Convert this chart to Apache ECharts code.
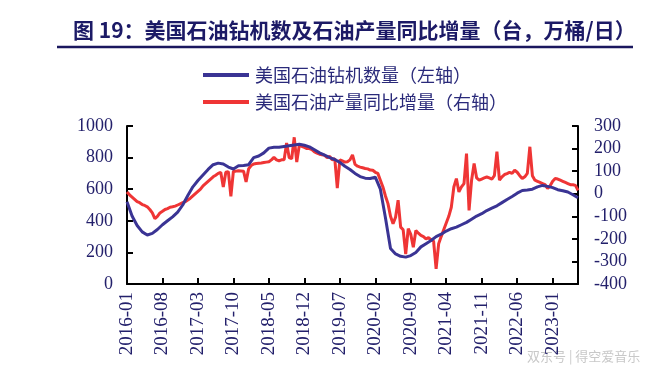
<!DOCTYPE html>
<html><head><meta charset="utf-8">
<script src="https://cdn.jsdelivr.net/npm/echarts@6/dist/echarts.min.js"></script>
<style>html,body{margin:0;padding:0;background:#fff}#c{width:653px;height:378px}</style>
</head><body><div id="c"></div>
<script>
// Months 2016-01 .. 2023-06 ; each month split into two half-month slots
const startYear = 2016, monthCount = 90;
const tickLabels = ['2016-01','2016-08','2017-03','2017-10','2018-05','2018-12','2019-07','2020-02','2020-09','2021-04','2021-11','2022-06','2023-01'];
// US oil rig count (left axis), one value per month
const rigCount = [520,430,370,330,310,320,345,375,400,425,455,500,560,615,655,690,725,755,765,760,
  740,728,748,750,755,800,810,830,860,865,865,870,875,880,884,878,868,850,830,815,
  800,788,770,745,725,700,680,670,668,676,600,420,225,190,175,170,180,200,235,255,
  275,300,315,335,350,360,375,390,410,430,445,465,480,495,515,535,554,575,592,595,
  600,615,624,618,610,597,590,582,565,546];
// US crude output YoY change (right axis), two values per month
const outputYoY = [8,-5,-15,-25,-35,-40,-48,-52,-58,-70,-85,-110,-100,-85,-78,-70,-66,-60,-58,-55,
  -50,-45,-40,-35,-28,-20,-10,0,10,20,35,45,55,65,75,82,90,95,30,95,
  98,-12,100,100,102,101,100,52,110,125,132,134,135,136,138,140,142,150,161,150,
  146,150,150,225,160,155,250,140,215,210,205,200,200,195,185,180,175,172,170,160,
  165,150,155,25,150,145,140,142,150,172,130,122,118,115,112,110,105,104,95,90,
  60,30,-10,-44,-100,-133,-104,-29,-148,-160,-267,-155,-180,-237,-163,-175,-185,-190,-200,-195,
  -204,-210,-333,-222,-190,-160,-130,-100,-60,30,67,8,30,45,178,-74,60,134,70,60,
  65,70,74,70,65,80,186,60,75,85,89,95,90,104,95,80,67,75,90,208,
  80,60,55,50,45,40,23,35,55,67,65,60,55,50,45,40,40,37,15];

const categories = [];
for (let m = 0; m < monthCount; m++) {
  const y = startYear + Math.floor(m / 12), mo = (m % 12) + 1;
  const ym = y + '-' + (mo < 10 ? '0' + mo : mo);
  categories.push(ym + '-01');
  if (m < monthCount - 1) categories.push(ym + '-16');
}
const rigData = categories.map((c, i) => (i % 2 === 0 ? rigCount[i / 2] : null));
const showIdx = (idx, val) => idx % 2 === 0 && tickLabels.indexOf(String(val).slice(0, 7)) >= 0 && String(val).slice(8) === '01';

const navy = '#23206b';
const chart = echarts.init(document.getElementById('c'), null, {renderer: 'canvas'});
chart.setOption({
  animation: false,
  backgroundColor: '#fff',
  title: {
    text: '图 19：美国石油钻机数及石油产量同比增量（台，万桶/日）',
    left: 68, top: 15,
    textStyle: {fontFamily: 'Noto Sans CJK SC', fontWeight: 'bold', fontSize: 21, color: '#1c1a66'}
  },
  graphic: [
    {type: 'line', shape: {x1: 57, y1: 47, x2: 633, y2: 47}, style: {stroke: '#1a175e', lineWidth: 2.5}},
    {type: 'text', left: 527, top: 350, style: {text: '双东号 | 得空爱音乐', fill: '#c8c8c8', font: '13px "Noto Sans CJK SC"'}}
  ],
  legend: {
    orient: 'vertical', left: 198, top: 61, itemWidth: 46, itemHeight: 4, itemGap: 9,
    icon: 'rect',
    textStyle: {fontFamily: 'Noto Sans CJK SC', fontSize: 18, color: '#2a2a7a', padding: [0, 0, 0, 1]},
    data: ['美国石油钻机数量（左轴）', '美国石油产量同比增量（右轴）']
  },
  grid: {left: 127, right: 75, top: 126, bottom: 94, containLabel: false},
  xAxis: {
    type: 'category', data: categories, boundaryGap: false,
    axisLine: {lineStyle: {color: '#000', width: 2}},
    axisTick: {inside: true, length: 6, interval: showIdx, lineStyle: {color: '#000', width: 2}},
    axisLabel: {interval: showIdx, rotate: 90, margin: 8, formatter: v => v.slice(0, 7),
      fontFamily: 'Liberation Serif', fontSize: 19, color: navy},
    splitLine: {show: false}
  },
  yAxis: [
    {type: 'value', min: 0, max: 1000, interval: 200, position: 'left',
      axisLine: {show: true, lineStyle: {color: '#000', width: 2}},
      axisTick: {show: true, inside: true, length: 6, lineStyle: {color: '#000', width: 2}},
      axisLabel: {margin: 14, formatter: v => String(v), fontFamily: 'Liberation Serif', fontSize: 18, color: navy},
      splitLine: {show: false}},
    {type: 'value', min: -400, max: 300, interval: 100, position: 'right',
      axisLine: {show: true, lineStyle: {color: '#000', width: 2}},
      axisTick: {show: true, inside: true, length: 6, lineStyle: {color: '#000', width: 2}},
      axisLabel: {margin: 16, formatter: v => String(v), fontFamily: 'Liberation Serif', fontSize: 18, color: navy},
      splitLine: {show: false}}
  ],
  series: [
    {name: '美国石油钻机数量（左轴）', type: 'line', yAxisIndex: 0, data: rigData, connectNulls: true,
      showSymbol: false, lineStyle: {color: '#3a3494', width: 3}, itemStyle: {color: '#3a3494'}, z: 3},
    {name: '美国石油产量同比增量（右轴）', type: 'line', yAxisIndex: 1, data: outputYoY,
      showSymbol: false, lineStyle: {color: '#ef3535', width: 3}, itemStyle: {color: '#ef3535'}, z: 2}
  ]
});
</script></body></html>
